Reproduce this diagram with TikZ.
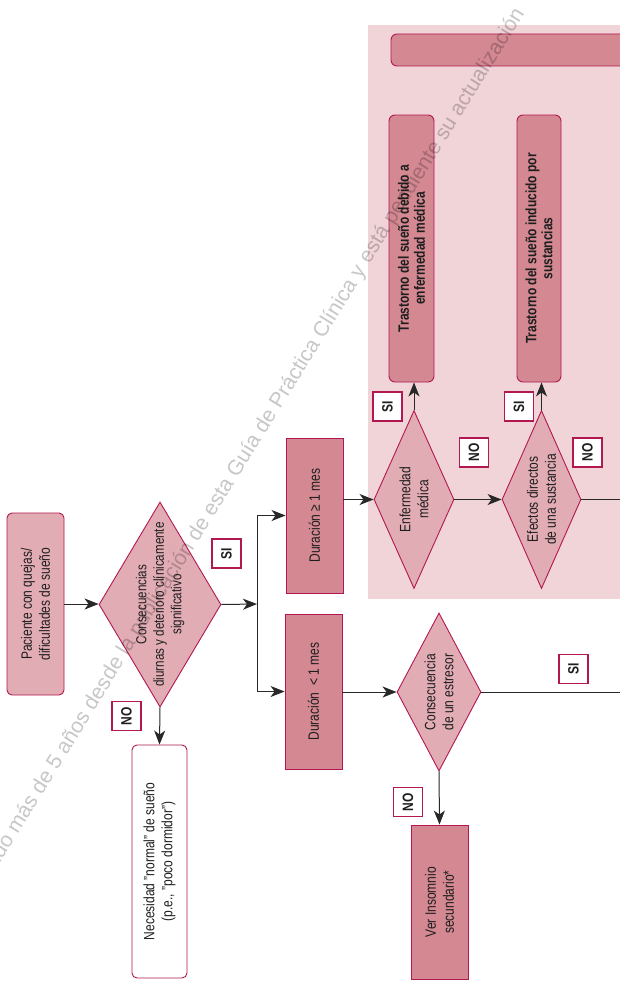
\documentclass[tikz,border=0pt]{standalone}
\usepackage{fontspec}
\setmainfont{Liberation Sans}[FakeStretch=0.8]
\newfontfamily\wmfont{Liberation Sans}
\usetikzlibrary{shapes.geometric,arrows.meta}
\definecolor{bordc}{RGB}{178,24,80}
\definecolor{lfill}{RGB}{226,172,180}
\definecolor{dfill}{RGB}{211,136,146}
\definecolor{bgc}{RGB}{240,212,216}
\definecolor{linec}{RGB}{40,40,40}
\definecolor{txtc}{RGB}{30,30,30}
\begin{document}
\begin{tikzpicture}[x=1pt,y=-1pt,
  txt/.style={font=\fontsize{15}{18}\selectfont, text=txtc, align=center, rotate=90, inner sep=0},
  btxt/.style={font=\fontsize{15}{16}\selectfont\bfseries, text=txtc, align=center, rotate=90, inner sep=0},
  dia/.style={diamond, draw=bordc, line width=0.9pt, fill=lfill, inner sep=0},
  dbox/.style={rectangle, draw=bordc, line width=0.9pt, fill=dfill, inner sep=0},
  lbox/.style={rectangle, rounded corners=5pt, draw=bordc, line width=0.9pt, fill=lfill, inner sep=0},
  wbox/.style={rectangle, rounded corners=5pt, draw=bordc, line width=0.9pt, fill=white, inner sep=0},
  rdbox/.style={rectangle, rounded corners=6pt, draw=bordc, line width=0.9pt, fill=dfill, inner sep=0},
  lab/.style={rectangle, draw=bordc, line width=1.1pt, fill=white, minimum width=29, minimum height=29, inner sep=0, font=\fontsize{15}{15}\selectfont\bfseries, text=txtc, rotate=90},
  arr/.style={draw=linec, line width=1pt, -{Stealth[length=14pt,width=11pt,inset=4pt]}},
  ln/.style={draw=linec, line width=1pt},
  wm/.style={font=\wmfont\fontsize{21.2}{21.2}\selectfont, text=black, text opacity=0.22, inner sep=0}
]
\useasboundingbox (0,0) rectangle (620,982);
\fill[white] (0,0) rectangle (620,982);
% background region
\fill[bgc] (368,25) rectangle (620,599);

% nodes
\node[lbox, minimum width=57, minimum height=182] (pac) at (35.5,604) {};
\node[txt] at (pac) {Paciente con quejas/\\dificultades de sueño};

\node[dia, minimum width=122, minimum height=205] (d1) at (160,604.5) {};
\node[txt, font=\fontsize{14.5}{17.5}\selectfont] at (d1) {Consecuencias\\diurnas y deterioro clínicamente\\significativo};

\node[wbox, minimum width=55, minimum height=233] (nec) at (159.5,861.5) {};
\node[txt] at (nec) {Necesidad "normal" de sueño\\(p.e., "poco dormidor")};

\node[dbox, minimum width=57, minimum height=155] (dur1) at (314.5,515.5) {};
\node[txt] at (dur1) {Duración ≥ 1 mes};

\node[dbox, minimum width=57, minimum height=155] (dur2) at (313.5,691.5) {};
\node[txt] at (dur2) {Duración \ < 1 mes};

\node[dia, minimum width=84, minimum height=158] (est) at (439,692) {};
\node[txt] at (est) {Consecuencia\\de un estresor};

\node[dbox, minimum width=57, minimum height=154] (ver) at (439.5,902) {};
\node[txt] at (ver) {Ver Insomnio\\secundario*};

\node[rdbox, minimum width=269, minimum height=32] (top) at (525.5,50) {};

\node[rdbox, minimum width=45, minimum height=267] (tr1) at (411.5,248.5) {};
\node[btxt] at (tr1) {Trastorno del sueño debido a\\enfermedad médica};

\node[rdbox, minimum width=44, minimum height=267] (tr2) at (539,248.5) {};
\node[btxt] at (tr2) {Trastorno del sueño inducido por\\sustancias};

\node[dia, minimum width=80, minimum height=178] (enf) at (414,499.5) {};
\node[txt] at (enf) {Enfermedad\\médica};

\node[dia, minimum width=79, minimum height=178] (efe) at (541.5,499.5) {};
\node[txt] at (efe) {Efectos directos\\de una sustancia};

% labels
\node[lab] (si1) at (226.5,553.5) {SI};
\node[lab] (no1) at (126.5,716) {NO};
\node[lab] (si2) at (387.5,406.5) {SI};
\node[lab] (si3) at (519,406.5) {SI};
\node[lab] (no2) at (474,452.5) {NO};
\node[lab] (no3) at (587.5,452.5) {NO};
\node[lab] (si4) at (573.5,669) {SI};
\node[lab] (no4) at (408,802) {NO};

% connectors
\coordinate (j) at (257,604);
\coordinate (e1) at (620,499.5);
\coordinate (e2) at (620,692);

\draw[arr] (pac.east) -- (pac.east -| d1.west);
\draw[arr] (d1.south) -- (nec.north);
\draw[arr] (d1.east) -- (j);
\draw[ln] (j |- dur1.west) -- (j |- dur2.west);
\draw[arr] (j |- dur1.west) -- (dur1.west);
\draw[arr] (j |- dur2.west) -- (dur2.west);
\draw[arr] (dur1.east |- enf.west) -- (enf.west);
\draw[arr] (enf.east) -- (efe.west);
\draw[arr] (enf.north) -- (enf.north |- tr1.south);
\draw[arr] (efe.north) -- (efe.north |- tr2.south);
\draw[ln] (efe.east) -- (e1);
\draw[arr] (dur2.east |- est.west) -- (est.west);
\draw[ln] (est.east) -- (e2);
\draw[arr] (est.south) -- (ver.north);

% watermark
\node[wm, rotate=58.3, anchor=base east] (wmk) at (525,13) {Han transcurrido más de 5 años desde la publicación de esta Guía de Práctica Clínica y está pendiente su actualización};
\end{tikzpicture}
\end{document}
